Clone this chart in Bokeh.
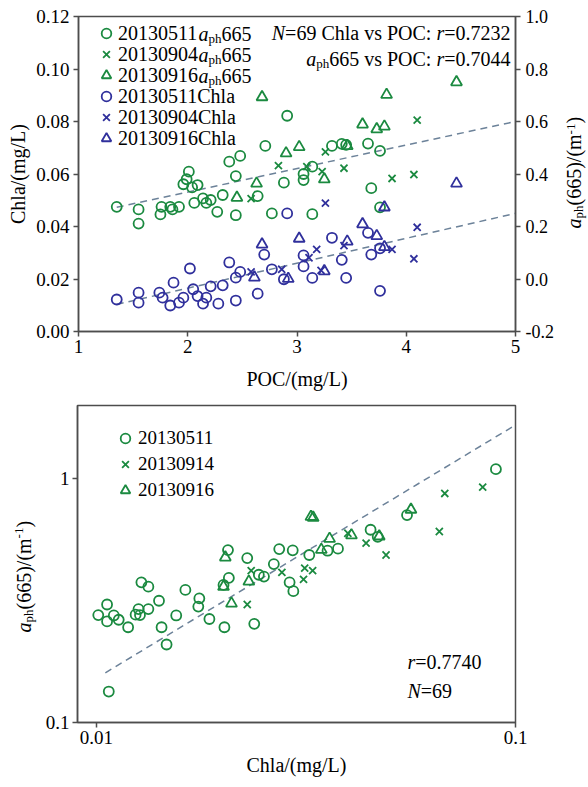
import numpy as np
from bokeh.plotting import figure
from bokeh.models import (Range1d, LinearAxis, FixedTicker, PrintfTickFormatter,
                          Legend, LegendItem, Label)
from bokeh.layouts import column, row
from bokeh.embed import file_html
from bokeh.resources import INLINE

FONT = "Liberation Serif"
GREEN = "#1b8a40"
BLUE = "#30309c"
FITC = "#6c8299"
AXC = "#4d4d4d"

# ---------------- top panel data (POC vs Chla / aph665) ----------------
chla_511_poc = [1.35, 1.55, 1.55, 1.74, 1.77, 1.84, 1.87, 1.92, 1.96, 2.02, 2.05, 2.09, 2.14, 2.17,
                2.21, 2.28, 2.32, 2.38, 2.44, 2.44, 2.48, 2.64, 2.70, 2.77, 2.88, 2.91, 3.06, 3.06,
                3.14, 3.32, 3.41, 3.45, 3.65, 3.68, 3.76, 3.76]
chla_511 = [0.0122, 0.0148, 0.0110, 0.0148, 0.0129, 0.0099, 0.0186, 0.0110, 0.0129, 0.0240, 0.0161,
            0.0135, 0.0106, 0.0129, 0.0172, 0.0106, 0.0176, 0.0263, 0.0118, 0.0205, 0.0227, 0.0144,
            0.0293, 0.0237, 0.0199, 0.0450, 0.0290, 0.0248, 0.0204, 0.0357, 0.0273, 0.0204, 0.0376,
            0.0293, 0.0317, 0.0155]
chla_904_poc = [2.58, 2.86, 3.11, 3.18, 3.22, 3.26, 3.43, 3.87, 4.07, 4.10]
chla_904 = [0.0227, 0.0237, 0.0281, 0.0313, 0.0233, 0.0489, 0.0327, 0.0313, 0.0277, 0.0397]
chla_916_poc = [2.61, 2.68, 2.92, 3.02, 3.25, 3.46, 3.60, 3.73, 3.80, 3.80, 4.46]
chla_916 = [0.0206, 0.0332, 0.0201, 0.0354, 0.0230, 0.0343, 0.0409, 0.0364, 0.0473, 0.0322, 0.0564]

aph_511_poc = [1.35, 1.55, 1.55, 1.76, 1.75, 1.84, 1.86, 1.92, 1.96, 1.99, 2.01, 2.04, 2.09, 2.06,
               2.14, 2.17, 2.21, 2.27, 2.32, 2.38, 2.48, 2.44, 2.44, 2.64, 2.71, 2.88, 2.77, 2.91,
               3.06, 3.06, 3.14, 3.32, 3.41, 3.45, 3.65, 3.76, 3.68, 3.76, 3.14]
aph_511 = [0.275, 0.265, 0.211, 0.275, 0.246, 0.275, 0.265, 0.275, 0.361, 0.380, 0.409, 0.349, 0.358,
           0.290, 0.307, 0.290, 0.301, 0.256, 0.320, 0.447, 0.469, 0.392, 0.243, 0.316, 0.507, 0.367,
           0.250, 0.622, 0.400, 0.377, 0.428, 0.507, 0.515, 0.511, 0.516, 0.488, 0.346, 0.273, 0.247]
aph_904_poc = [2.58, 2.83, 3.09, 3.23, 3.26, 3.43, 3.87, 4.07, 4.10]
aph_904 = [0.306, 0.432, 0.428, 0.409, 0.484, 0.422, 0.383, 0.398, 0.605]
aph_916_poc = [2.45, 2.63, 2.68, 2.90, 3.02, 3.25, 3.46, 3.60, 3.73, 3.80, 3.82, 4.46]
aph_916 = [0.310, 0.364, 0.693, 0.479, 0.503, 0.380, 0.507, 0.589, 0.571, 0.581, 0.702, 0.750]

fit_poc = [1.35, 5.0]
chla_fit = (-0.0025, 0.0095)     # intercept, slope
aph_fit = (0.152, 0.0896)        # intercept, slope

top_x_ticks = [1, 2, 3, 4, 5]
top_left_ticks = [0.0, 0.02, 0.04, 0.06, 0.08, 0.10, 0.12]
top_right_ticks = [-0.2, 0.0, 0.2, 0.4, 0.6, 0.8, 1.0]

# ---------------- bottom panel data (Chla vs aph665, log-log) ----------------
b511_chla = [0.0107, 0.0106, 0.0101, 0.0106, 0.0110, 0.0113, 0.0119, 0.0124, 0.0126, 0.0127, 0.0133,
             0.0128, 0.0133, 0.0141, 0.0143, 0.0147, 0.0155, 0.0163, 0.0176, 0.0175, 0.0186, 0.0202,
             0.0201, 0.0207, 0.0206, 0.0229, 0.0238, 0.0244, 0.0251, 0.0265, 0.0273, 0.0294, 0.0289,
             0.0295, 0.0322, 0.0356, 0.0377, 0.0451, 0.0469, 0.0551, 0.0898]
b511_aph = [0.134, 0.305, 0.276, 0.260, 0.275, 0.264, 0.246, 0.277, 0.292, 0.276, 0.292, 0.376, 0.361,
            0.316, 0.246, 0.209, 0.275, 0.350, 0.323, 0.299, 0.266, 0.246, 0.367, 0.392, 0.510, 0.473,
            0.254, 0.404, 0.397, 0.447, 0.515, 0.509, 0.376, 0.346, 0.487, 0.507, 0.517, 0.618, 0.578,
            0.710, 1.096]
b914_chla = [0.0229, 0.0234, 0.0277, 0.0314, 0.0312, 0.0328, 0.0398, 0.0440, 0.0491, 0.0658, 0.0678, 0.0835]
b914_aph = [0.305, 0.420, 0.413, 0.430, 0.387, 0.420, 0.598, 0.545, 0.487, 0.608, 0.871, 0.925]
b916_chla = [0.0203, 0.0201, 0.0210, 0.0231, 0.0325, 0.0329, 0.0360, 0.0344, 0.0406, 0.0473, 0.0563]
b916_aph = [0.476, 0.361, 0.308, 0.379, 0.699, 0.693, 0.568, 0.512, 0.587, 0.581, 0.748]

fit_chla = [0.0105, 0.1]
power_fit = (18.2, 1.039)        # aph = a * Chla^b

bot_x_ticks = [0.01, 0.1]
bot_y_ticks = [0.1, 1.0]


def style_axis(ax, fmt, ticks, tick_size="19px", standoff=4):
    ax.ticker = FixedTicker(ticks=ticks)
    ax.formatter = PrintfTickFormatter(format=fmt)
    ax.axis_line_color = AXC
    ax.axis_line_width = 1.5
    ax.major_tick_line_color = AXC
    ax.major_tick_line_width = 1.5
    ax.major_tick_out = 5
    ax.major_tick_in = 0
    ax.minor_tick_line_color = None
    ax.major_label_text_font = FONT
    ax.major_label_text_font_size = tick_size
    ax.major_label_text_color = "black"
    ax.major_label_standoff = standoff
    ax.axis_label_text_font = FONT
    ax.axis_label_text_font_size = "20px"
    ax.axis_label_text_font_style = "normal"
    ax.axis_label_text_color = "black"


def lab(p, x, y, text, size="20px", style="normal", align="left", baseline="middle", angle=0.0):
    p.add_layout(Label(x=x, y=y, x_units="screen", y_units="screen", text=text,
                       text_font=FONT, text_font_size=size, text_font_style=style,
                       text_align=align, text_baseline=baseline, angle=angle,
                       text_color="black"))


def rotated_aph_label(p, bx, by, sup_dx=-5):
    """a_ph(665)/(m^-1) reading upward, built from pieces (centred on bx)."""
    A = np.pi / 2
    lab(p, bx, by, "a", style="italic", angle=A)
    lab(p, bx + 5, by + 10, "ph", size="13px", angle=A)
    lab(p, bx, by + 23, "(665)/(m", angle=A)
    lab(p, bx + sup_dx, by + 94.1, "-1", size="13px", angle=A)
    lab(p, bx, by + 104.9, ")", angle=A)


def label_strip(width, height, top, bottom):
    f = figure(width=width, height=height, min_border=0, min_border_top=top, min_border_bottom=bottom,
               x_range=Range1d(0, 1), y_range=Range1d(0, 1),
               x_axis_location=None, y_axis_location=None, output_backend="svg",
               toolbar_location=None, background_fill_color="white", border_fill_color="white")
    f.outline_line_color = None
    f.xgrid.visible = False
    f.ygrid.visible = False
    return f


# =============================== TOP FIGURE ===============================
P1_TOP, P1_FH, P1_BOT = 16, 315, 69
P1_L, P1_FW, P1_R = 78, 437, 49
P1_H = P1_TOP + P1_FH + P1_BOT
p1 = figure(frame_width=P1_FW, frame_height=P1_FH, min_border_left=P1_L, min_border_right=P1_R,
            min_border_top=P1_TOP, min_border_bottom=P1_BOT,
            x_range=Range1d(1, 5), y_range=Range1d(0, 0.12),
            output_backend="svg", toolbar_location=None,
            background_fill_color="white", border_fill_color="white")
p1.extra_y_ranges = {"aph": Range1d(-0.2, 1.0)}
p1.xgrid.visible = False
p1.ygrid.visible = False
p1.outline_line_color = AXC
p1.outline_line_width = 1.5

style_axis(p1.xaxis[0], "%d", top_x_ticks, standoff=3)
p1.xaxis[0].axis_label = "POC/(mg/L)"
p1.xaxis[0].axis_label_standoff = 12
style_axis(p1.yaxis[0], "%.2f", top_left_ticks, standoff=4)
p1.yaxis[0].axis_label = "Chla/(mg/L)"
p1.yaxis[0].axis_label_standoff = 4
rax = LinearAxis(y_range_name="aph")
style_axis(rax, "%.1f", top_right_ticks, tick_size="18px", standoff=5)
p1.add_layout(rax, "right")

# regression lines
p1.line(fit_poc, [chla_fit[0] + chla_fit[1] * v for v in fit_poc],
        line_color=FITC, line_width=1.5, line_dash="7 5")
p1.line(fit_poc, [aph_fit[0] + aph_fit[1] * v for v in fit_poc], y_range_name="aph",
        line_color=FITC, line_width=1.5, line_dash="7 5")

mk = dict(fill_color=None, line_width=1.8)
g1 = p1.scatter(aph_511_poc, aph_511, marker="circle", size=10, line_color=GREEN, y_range_name="aph", **mk)
g2 = p1.scatter(aph_904_poc, aph_904, marker="x", size=10, line_color=GREEN, y_range_name="aph", **mk)
g3 = p1.scatter(aph_916_poc, aph_916, marker="triangle", size=11, line_color=GREEN, y_range_name="aph", **mk)
b1 = p1.scatter(chla_511_poc, chla_511, marker="circle", size=10, line_color=BLUE, **mk)
b2 = p1.scatter(chla_904_poc, chla_904, marker="x", size=10, line_color=BLUE, **mk)
b3 = p1.scatter(chla_916_poc, chla_916, marker="triangle", size=11, line_color=BLUE, **mk)

# legend: one single-row legend per entry so the row pitch matches
legend_rows = [("20130511", g1), ("20130904", g2), ("20130916", g3),
               ("20130511Chla", b1), ("20130904Chla", b2), ("20130916Chla", b3)]
row_centres = [298, 277, 256, 235, 214, 193]
for (txt, rr), c in zip(legend_rows, row_centres):
    p1.add_layout(Legend(items=[LegendItem(label=txt, renderers=[rr])],
                         location=(16, c - 12), orientation="vertical",
                         glyph_width=24, glyph_height=24, label_height=24, label_standoff=0,
                         padding=0, margin=0, spacing=0,
                         border_line_color=None, background_fill_alpha=0,
                         label_text_font=FONT, label_text_font_size="20px",
                         label_text_color="black"))

# a_ph665 suffixes for the first three legend rows
for yy in row_centres[:3]:
    lab(p1, 120, yy, "a", style="italic")
    lab(p1, 130, yy - 5, "ph", size="13px")
    lab(p1, 143, yy, "665")

# correlation annotations (top right)
lab(p1, 432, 299, "=0.7232", align="right")
lab(p1, 365.7, 299, "r", style="italic", align="right")
lab(p1, 352.9, 299, "=69 Chla vs POC:", align="right")
lab(p1, 206.6, 299, "N", style="italic", align="right")
lab(p1, 432, 273, "=0.7044", align="right")
lab(p1, 365.7, 273, "r", style="italic", align="right")
lab(p1, 352.9, 273, "665 vs POC:", align="right")
lab(p1, 250.7, 268, "ph", size="13px", align="right")
lab(p1, 237.7, 273, "a", style="italic", align="right")

# right axis title strip (frame aligned with p1's frame)
RS_W = 588 - (P1_L + P1_FW + P1_R)
rstrip = label_strip(RS_W, P1_H, P1_TOP, P1_BOT)
rotated_aph_label(rstrip, 9, 103, sup_dx=-3)

# ============================== BOTTOM FIGURE ==============================
P2_TOP, P2_FH, P2_BOT = 5, 317, 62
LS_W = 42
P2_H = P2_TOP + P2_FH + P2_BOT
p2 = figure(frame_width=438, frame_height=P2_FH, min_border_left=75 - LS_W, min_border_right=60,
            min_border_top=P2_TOP, min_border_bottom=P2_BOT,
            x_axis_type="log", y_axis_type="log",
            x_range=Range1d(0.00901, 0.1), y_range=Range1d(0.1, 2.0),
            output_backend="svg", toolbar_location=None,
            background_fill_color="white", border_fill_color="white")
p2.xgrid.visible = False
p2.ygrid.visible = False
p2.outline_line_color = AXC
p2.outline_line_width = 1.5
style_axis(p2.xaxis[0], "%g", bot_x_ticks, standoff=3)
p2.xaxis[0].axis_label = "Chla/(mg/L)"
p2.xaxis[0].axis_label_standoff = 7
style_axis(p2.yaxis[0], "%g", bot_y_ticks, standoff=3)

p2.line(fit_chla, [power_fit[0] * v ** power_fit[1] for v in fit_chla],
        line_color=FITC, line_width=1.5, line_dash="7 5")
h1 = p2.scatter(b511_chla, b511_aph, marker="circle", size=10, line_color=GREEN, **mk)
h2 = p2.scatter(b914_chla, b914_aph, marker="x", size=10, line_color=GREEN, **mk)
h3 = p2.scatter(b916_chla, b916_aph, marker="triangle", size=11, line_color=GREEN, **mk)

leg2 = Legend(items=[LegendItem(label="20130511", renderers=[h1]),
                     LegendItem(label="20130914", renderers=[h2]),
                     LegendItem(label="20130916", renderers=[h3])],
              location=(36, 220), orientation="vertical",
              glyph_width=24, glyph_height=24, label_height=24, label_standoff=1,
              padding=0, margin=0, spacing=2,
              border_line_color=None, background_fill_alpha=0,
              label_text_font=FONT, label_text_font_size="19px", label_text_color="black")
p2.add_layout(leg2)

lab(p2, 330, 61, "r", style="italic")
lab(p2, 337.8, 61, "=0.7740")
lab(p2, 330, 32, "N", style="italic")
lab(p2, 343.3, 32, "=69")

# left axis title strip (frame aligned with p2's frame)
lstrip = label_strip(LS_W, P2_H, P2_TOP, P2_BOT)
rotated_aph_label(lstrip, 23, 90)

layout = column(row(p1, rstrip, spacing=0), row(lstrip, p2, spacing=0), spacing=0)
open("out.html", "w").write(file_html(layout, INLINE))
